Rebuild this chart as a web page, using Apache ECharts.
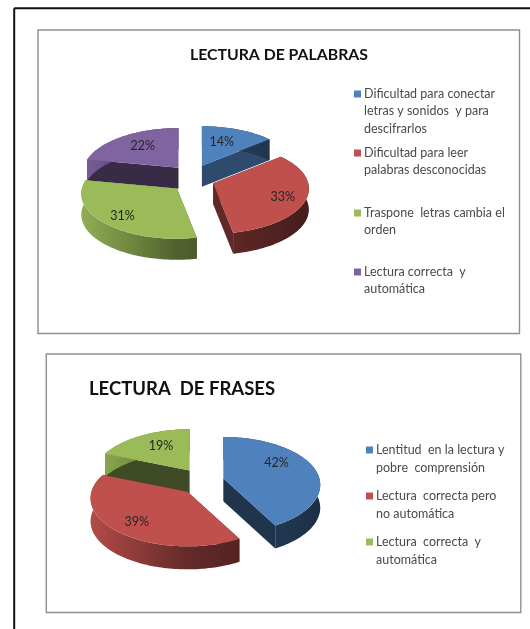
<!DOCTYPE html>
<html>
<head>
<meta charset="utf-8">
<style>html,body{margin:0;padding:0;background:#fff;overflow:hidden}#c{width:530px;height:629px;filter:blur(.45px)}</style>
<script src="https://cdn.jsdelivr.net/npm/echarts@6/dist/echarts.min.js"></script>
</head>
<body>
<div id="c"></div>
<script>
// ---- data ----
const titleWords = 'LECTURA DE PALABRAS';
const wordCategories = [
  'Dificultad para conectar\nletras y sonidos  y para\ndescifrarlos',
  'Dificultad para leer\npalabras desconocidas',
  'Traspone  letras cambia el\norden',
  'Lectura correcta  y\nautomática'
];
const wordValues = [14, 33, 31, 22];

const titlePhrases = 'LECTURA  DE FRASES';
const phraseCategories = [
  'Lentitud  en la lectura y\npobre  comprensión',
  'Lectura  correcta pero\nno automática',
  'Lectura  correcta  y\nautomática'
];
const phraseValues = [42, 39, 19];

// ---- styles and layout ----
const colors = ['#4f81bd', '#c0504d', '#9bbb59', '#8064a2'];
const font = 'Lato, Carlito, sans-serif';
const pies = [
  { title: titleWords, cats: wordCategories, vals: wordValues,
    cx: 192.5, cy: 178.5, rx: 95, ry: 45, p: 0.12, ex: 22, ey: 14, depth: 21,
    sideShade: [0.58, 0.5, 0.5, 0.43],
    labelScale: [[0.53, 0.63], [0.75, 0.9], [0.76, 0.8], [0.63, 0.68]],
    legendX: 354, legendY: [94, 153, 213, 272], lineH: 17.4, legendSize: 12.5 },
  { title: titlePhrases, cats: phraseCategories, vals: phraseValues,
    cx: 202, cy: 481.6, rx: 96, ry: 48, p: 0.14, ex: 22, ey: 13.4, depth: 23,
    sideShade: [0.4, 0.5, 0.4],
    labelScale: [[0.6, 1.3], [0.74, 0.775], [0.575, 0.665]],
    legendX: 366, legendY: [450, 496, 542], lineH: 18, legendSize: 12.5 }
];

function shade(hex, f) {
  const n = parseInt(hex.slice(1), 16);
  const c = [n >> 16, (n >> 8) & 255, n & 255].map(v => Math.round(v * f));
  return 'rgb(' + c.join(',') + ')';
}

function sliceGeom(pie, i) {
  const total = pie.vals.reduce((a, b) => a + b, 0);
  let before = 0;
  for (let k = 0; k < i; k++) before += pie.vals[k];
  const a0 = before / total * 2 * Math.PI;
  const a1 = (before + pie.vals[i]) / total * 2 * Math.PI;
  return { a0, a1, mid: (a0 + a1) / 2 };
}

function pieSeries(pie) {
  const project = (ax, ay, u, v) => {
    const s = 1 + pie.p * v;
    return [ax + pie.rx * u * s, ay + pie.ry * v * s];
  };
  const order = pie.vals.map((_, i) => i)
    .sort((a, b) => Math.cos(sliceGeom(pie, b).mid) - Math.cos(sliceGeom(pie, a).mid));
  return {
    type: 'custom',
    coordinateSystem: 'none',
    silent: true,
    clip: false,
    data: order.map(i => [pie.vals[i], i]),
    renderItem(params, api) {
      const i = api.value(1);
      const g = sliceGeom(pie, i);
      const base = colors[i];
      const ax = pie.cx + pie.ex * Math.sin(g.mid);
      const ay = pie.cy - pie.ey * Math.cos(g.mid);
      const steps = Math.max(8, Math.ceil((g.a1 - g.a0) * 40));
      const rim = [];
      for (let k = 0; k <= steps; k++) {
        const t = g.a0 + (g.a1 - g.a0) * k / steps;
        rim.push(project(ax, ay, Math.sin(t), -Math.cos(t)));
      }
      const down = q => [q[0], q[1] + pie.depth];
      const top = [[ax, ay]].concat(rim);
      const sideStyle = { fill: shade(base, pie.sideShade[i]) };
      const wallFill = new echarts.graphic.LinearGradient(
        ax - pie.rx * 1.05, 0, ax + pie.rx * 1.05, 0,
        [{ offset: 0, color: shade(base, 0.95) },
         { offset: 0.5, color: shade(base, 0.52) },
         { offset: 1, color: shade(base, 0.36) }], true);
      const first = rim[0], last = rim[rim.length - 1], apex = [ax, ay];
      const children = [
        { type: 'polygon', shape: { points: [apex, first, down(first), down(apex)] }, style: sideStyle },
        { type: 'polygon', shape: { points: [apex, last, down(last), down(apex)] }, style: sideStyle },
        { type: 'polygon', shape: { points: rim.concat(rim.map(down).reverse()) }, style: { fill: wallFill } },
        { type: 'polygon', shape: { points: top }, style: { fill: base } }
      ];
      const ls = pie.labelScale[i];
      const lp = project(ax, ay, Math.sin(g.mid) * ls[0], -Math.cos(g.mid) * ls[1]);
      children.push({
        type: 'text',
        style: { x: lp[0], y: lp[1], text: api.value(0) + '%', fill: '#262626',
                 font: '12.5px ' + font, align: 'center', verticalAlign: 'middle' }
      });
      return { type: 'group', children };
    }
  };
}

function legendElements(pie) {
  const out = [];
  pie.cats.forEach((name, i) => {
    const y = pie.legendY[i];
    out.push({ type: 'rect', shape: { x: pie.legendX, y: y - 3.5, width: 7, height: 7 },
               style: { fill: colors[i] }, silent: true });
    name.split('\n').forEach((line, j) => {
      out.push({ type: 'text', silent: true,
        style: { x: pie.legendX + 10, y: y + j * pie.lineH, text: line, fill: '#4a4a4a',
                 font: pie.legendSize + 'px ' + font, verticalAlign: 'middle' } });
    });
  });
  return out;
}

const panelLine = { stroke: '#8f8f8f', lineWidth: 1.4, fill: '#fff' };
const outerLine = { stroke: '#111', lineWidth: 2 };
const frame = [
  { type: 'line', z: -10, silent: true, shape: { x1: 14.2, y1: 8.3, x2: 530, y2: 8.3 }, style: outerLine },
  { type: 'line', z: -10, silent: true, shape: { x1: 14.2, y1: 8.3, x2: 14.2, y2: 629 }, style: outerLine },
  { type: 'rect', z: -9, silent: true, shape: { x: 38, y: 30, width: 481.5, height: 303.5 }, style: panelLine },
  { type: 'rect', z: -9, silent: true, shape: { x: 46.3, y: 354, width: 474.5, height: 258.5 }, style: panelLine }
];

const chart = echarts.init(document.getElementById('c'), null, { renderer: 'canvas' });
chart.setOption({
  animation: false,
  backgroundColor: '#fff',
  title: [
    { text: titleWords, left: 185, top: 50, textVerticalAlign: 'middle',
      textStyle: { fontFamily: font, fontSize: 15.8, fontWeight: 'bold', color: '#111' } },
    { text: titlePhrases, left: 84, top: 384, textVerticalAlign: 'middle',
      textStyle: { fontFamily: font, fontSize: 18.5, fontWeight: 'bold', color: '#111' } }
  ],
  graphic: { elements: frame.concat(legendElements(pies[0]), legendElements(pies[1])) },
  series: pies.map(pieSeries)
});
</script>
</body>
</html>
